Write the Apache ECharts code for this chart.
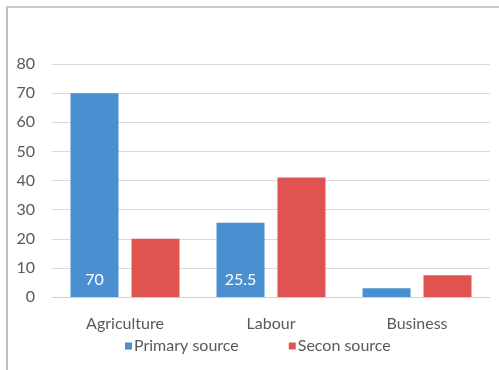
<!DOCTYPE html>
<html>
<head>
<meta charset="utf-8">
<script src="https://cdn.jsdelivr.net/npm/echarts@6/dist/echarts.min.js"></script>
<style>
  html, body { margin: 0; padding: 0; background: #fff; }
  #chart { width: 499px; height: 370px; }
</style>
</head>
<body>
<div id="chart"></div>
<script>
  // categories + series values
  const categories = ['Agriculture', 'Labour', 'Business'];
  const primary = [70, 25.5, 3];
  const secondary = [20, 41, 7.5];
  const primaryLabels = ['70', '25.5', ''];

  const chart = echarts.init(document.getElementById('chart'));
  const font = "Lato, 'Open Sans', sans-serif";

  chart.setOption({
    animation: false,
    backgroundColor: '#fff',
    textStyle: { fontFamily: font },
    graphic: [
      // frame of the chart area (left + top edge)
      { type: 'rect', shape: { x: 6, y: 6, width: 2, height: 364 }, style: { fill: '#bdbdbd' } },
      { type: 'rect', shape: { x: 6, y: 6, width: 493, height: 2 }, style: { fill: '#c8c8c8' } }
    ],
    grid: { left: 52, right: 9, top: 64, bottom: 73 },
    legend: {
      bottom: 11, left: 120, itemGap: 50,
      icon: 'rect', itemWidth: 7, itemHeight: 7,
      textStyle: { color: '#595959', fontSize: 16, fontFamily: font, padding: [0, 0, 0, -3] },
      data: ['Primary source', 'Secon source']
    },
    xAxis: {
      type: 'category', data: categories,
      axisLine: { lineStyle: { color: '#d0d0d0' } },
      axisTick: { show: false },
      axisLabel: { color: '#595959', fontSize: 16, margin: 19, fontFamily: font }
    },
    yAxis: {
      type: 'value', min: 0, max: 80, interval: 10,
      axisLine: { show: false }, axisTick: { show: false },
      splitLine: { lineStyle: { color: '#dadada' } },
      axisLabel: { color: '#595959', fontSize: 16, margin: 17, fontFamily: font }
    },
    series: [
      {
        name: 'Primary source', type: 'bar', data: primary,
        barWidth: 48, barGap: '27%',
        itemStyle: { color: '#4a8fd2' },
        label: {
          show: true, position: 'insideBottom', distance: 9,
          color: '#fff', fontSize: 16, fontFamily: font,
          formatter: (p) => primaryLabels[p.dataIndex]
        }
      },
      {
        name: 'Secon source', type: 'bar', data: secondary,
        barWidth: 48,
        itemStyle: { color: '#df5450' }
      }
    ]
  });
</script>
</body>
</html>
